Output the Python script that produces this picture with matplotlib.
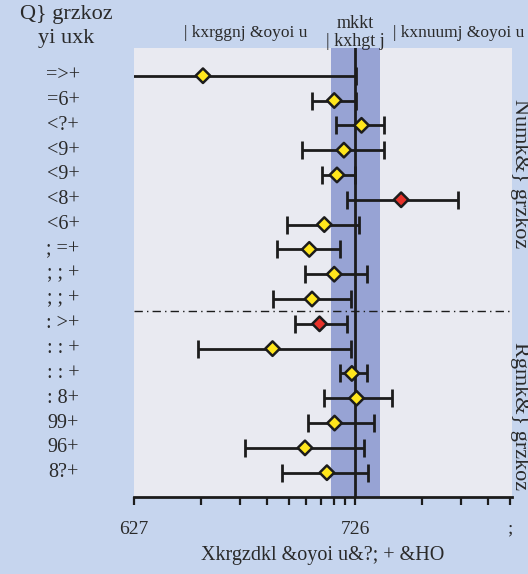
import numpy as np
import matplotlib
matplotlib.use("Agg")
import matplotlib.pyplot as plt
from matplotlib.ticker import FixedLocator, NullFormatter
from matplotlib.transforms import blended_transform_factory

plt.rcParams["font.family"] = ["Liberation Serif", "DejaVu Serif"]

# Row labels, top to bottom
row_labels = ["=>+", "=6+", "<?+", "<9+", "<9+", "<8+", "<6+", "; =+", "; ; +",
              "; ; +", ": >+", ": : +", ": : +", ": 8+", "99+", "96+", "8?+"]
# Point estimates and interval bounds (log-scaled axis)
estimates = [0.205, 0.804, 1.068, 0.889, 0.827, 1.613, 0.725, 0.620, 0.804,
             0.638, 0.690, 0.423, 0.966, 1.014, 0.807, 0.593, 0.745]
lower = [0.05, 0.638, 0.823, 0.576, 0.707, 0.917, 0.493, 0.445, 0.590,
         0.423, 0.532, 0.195, 0.850, 0.725, 0.609, 0.318, 0.468]
upper = [1.01, 1.01, 1.343, 1.343, 0.993, 2.92, 1.039, 0.850, 1.129,
         0.959, 0.914, 0.959, 1.129, 1.465, 1.218, 1.094, 1.148]
highlight = [False, False, False, False, False, True, False, False, False,
             False, True, False, False, False, False, False, False]
band = (0.779, 1.301)
group_split = 9.5

xticks_major = [0.1, 1, 5]
xtick_labels = ["627", "726", ";"]
xticks_minor = [0.2, 0.3, 0.4, 0.5, 0.6, 0.7, 0.8, 0.9, 2, 3, 4]

W, H = 528, 574
fig_bg = "#C6D5EE"
ax_bg = "#E9EAF1"
band_color = "#97A3D4"
ink = "#1c1c1c"
text_color = "#2a2a2a"


def fx(x):
    return x / W


def fy(y):
    return 1 - y / H


fig = plt.figure(figsize=(W / 100, H / 100), dpi=100, facecolor=fig_bg)
ax = fig.add_axes([fx(134), fy(497), (511.7 - 134) / W, (497 - 48) / H])
ax.set_facecolor(ax_bg)
ax.set_xscale("log")
ax.set_xlim(0.1, 5.1)
n = len(row_labels)
ypos = np.arange(n)
ax.set_ylim(n - 1 + 0.98, -1.117)

ax.axvspan(band[0], band[1], color=band_color, zorder=0.5, lw=0)
ax.axvline(1, color=ink, lw=2, zorder=2)
ax.axhline(group_split, color=ink, lw=1, ls=(0, (6, 3, 1, 3)), zorder=1.5)

est = np.array(estimates)
lo = np.array(lower)
hi = np.array(upper)
ax.errorbar(est, ypos, xerr=[est - lo, hi - est], fmt="none", ecolor=ink,
            elinewidth=2, capsize=6.5, capthick=2, zorder=3)
colors = ["#E8322A" if h else "#FFE61C" for h in highlight]
ax.scatter(est, ypos, marker="D", s=7.4 ** 2, c=colors, edgecolors=ink,
           linewidths=1.8, zorder=4)

for s in ["left", "right", "top"]:
    ax.spines[s].set_visible(False)
ax.spines["bottom"].set_color(ink)
ax.spines["bottom"].set_linewidth(2)
ax.set_yticks([])
ax.xaxis.set_major_locator(FixedLocator(xticks_major))
ax.xaxis.set_minor_locator(FixedLocator(xticks_minor))
ax.xaxis.set_minor_formatter(NullFormatter())
ax.set_xticklabels(xtick_labels)
ax.tick_params(axis="x", which="both", direction="out", length=6, width=1.6,
               color=ink, labelsize=14, pad=11, labelcolor=text_color)
ax.set_xlabel("Xkrgzdkl &oyoi u&?; + &HO", fontsize=14.5, color=text_color,
              labelpad=6)

# Row labels on the left, centred in the margin
row_tf = blended_transform_factory(fig.transFigure, ax.transData)
for yi, lab in zip(ypos, row_labels):
    ax.text(fx(63), yi, lab, transform=row_tf, ha="center", va="center",
            fontsize=14.5, color=text_color)

txt = dict(color=text_color, ha="center", va="center")
fig.text(fx(66), fy(15), "Q} grzkoz", fontsize=16, **txt)
fig.text(fx(66), fy(38), "yi uxk", fontsize=16, **txt)
fig.text(fx(246), fy(33), "| kxrggnj &oyoi u", fontsize=12.5, **txt)
fig.text(fx(355), fy(24), "mkkt", fontsize=13, **txt)
fig.text(fx(355), fy(42), "| kxhgt j", fontsize=13, **txt)
fig.text(fx(459), fy(33), "| kxnuumj &oyoi u", fontsize=12.5, **txt)
fig.text(fx(520), fy(174), "Numk&} grzkoz", rotation=270, fontsize=16, **txt)
fig.text(fx(520), fy(416), "Rgmk&} grzkoz", rotation=270, fontsize=16, **txt)

fig.savefig("out.png", dpi=100, facecolor=fig_bg)
